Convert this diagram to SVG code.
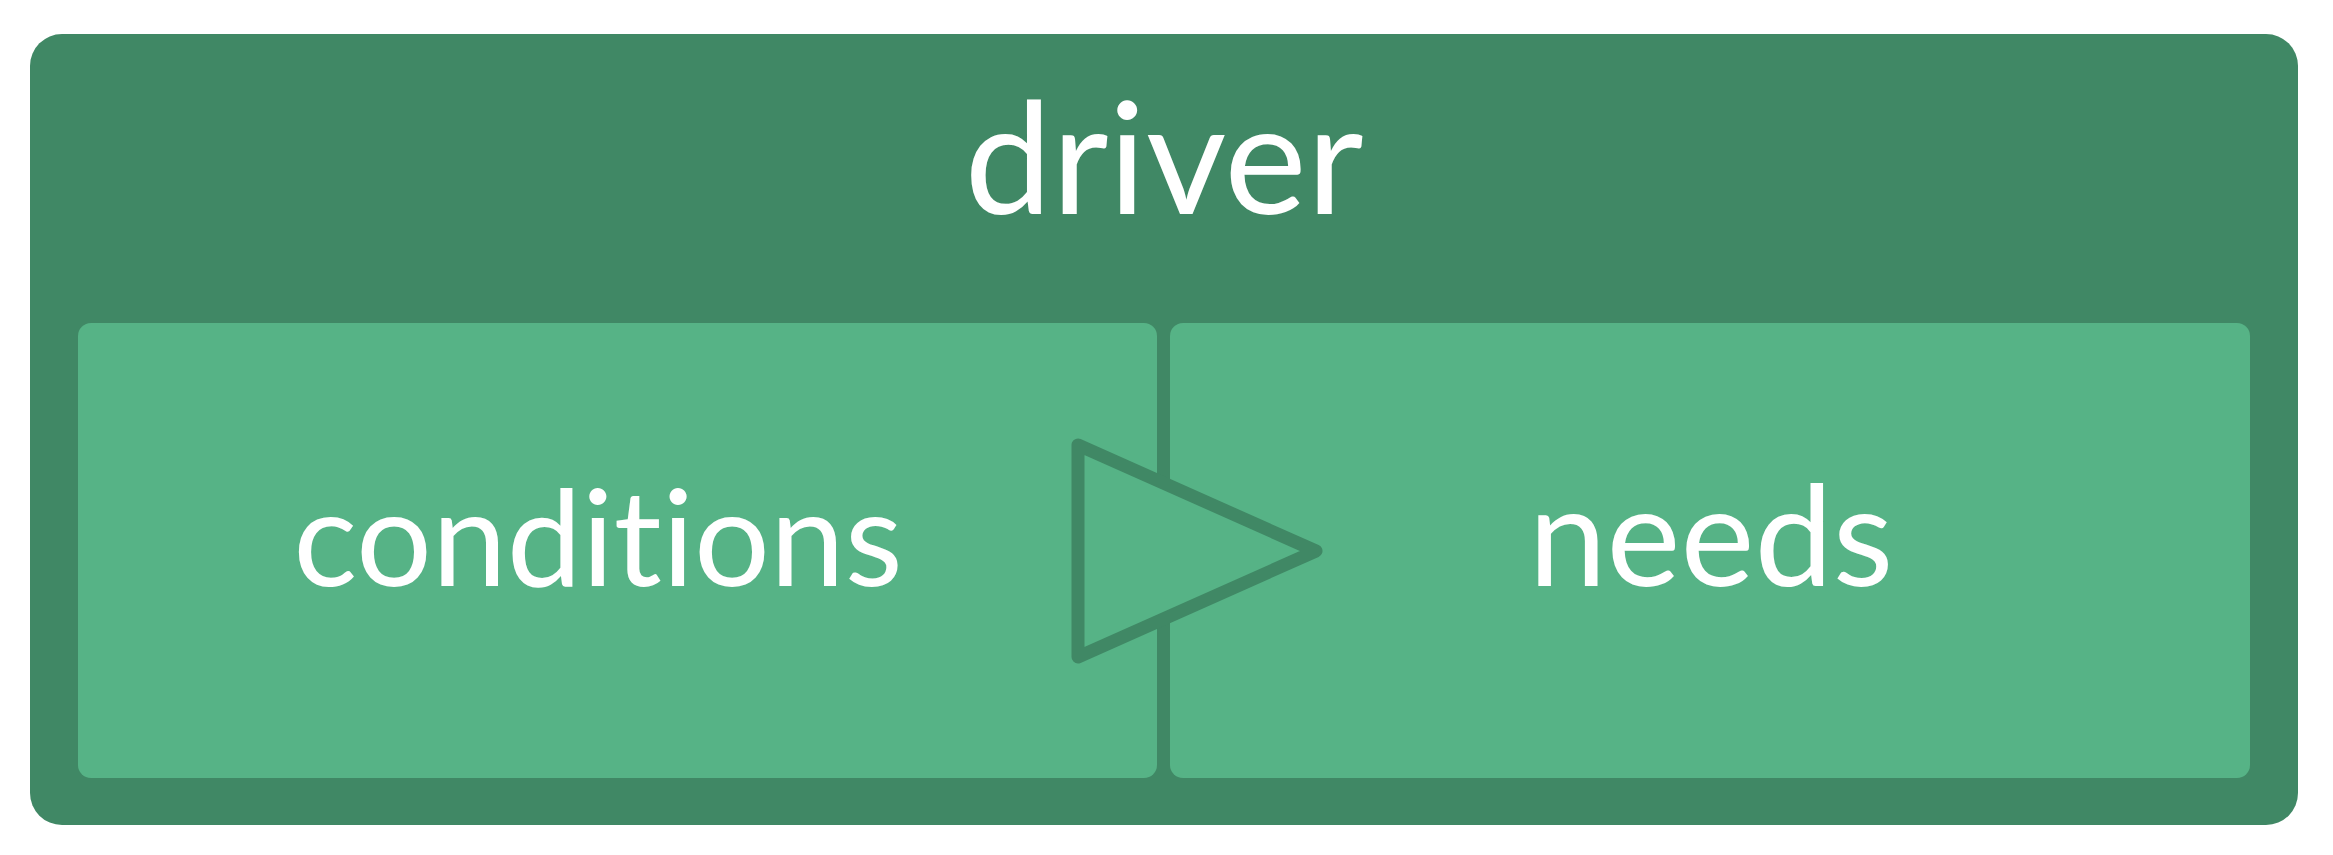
<svg xmlns="http://www.w3.org/2000/svg" width="2333" height="855" viewBox="0 0 2333 855">
  <style>
    .outer { fill: #408865; }
    .panel { fill: #56b386; }
    .label { fill: #ffffff; font-family: "Lato", "Liberation Sans", sans-serif; text-anchor: middle;
             font-variant-ligatures: none; font-feature-settings: "liga" 0, "clig" 0, "dlig" 0; }
    .flow { fill: #56b386; stroke: #408865; stroke-width: 13; stroke-linejoin: round; }
  </style>
  <rect width="2333" height="855" fill="#ffffff"/>

  <g id="driver">
    <rect class="outer" x="30" y="34" width="2268" height="791" rx="32"/>
    <text class="label" x="1164" y="214" font-size="156">driver</text>
  </g>

  <g id="conditions">
    <rect class="panel" x="78" y="323" width="1079" height="455" rx="13"/>
    <text class="label" x="598" y="586" font-size="134">conditions</text>
  </g>

  <g id="needs">
    <rect class="panel" x="1170" y="323" width="1080" height="455" rx="13"/>
    <text class="label" x="1711" y="586" font-size="140">needs</text>
  </g>

  <g id="connectors">
    <polygon class="flow" points="1078,445 1078,657 1316,551"/>
  </g>
</svg>
